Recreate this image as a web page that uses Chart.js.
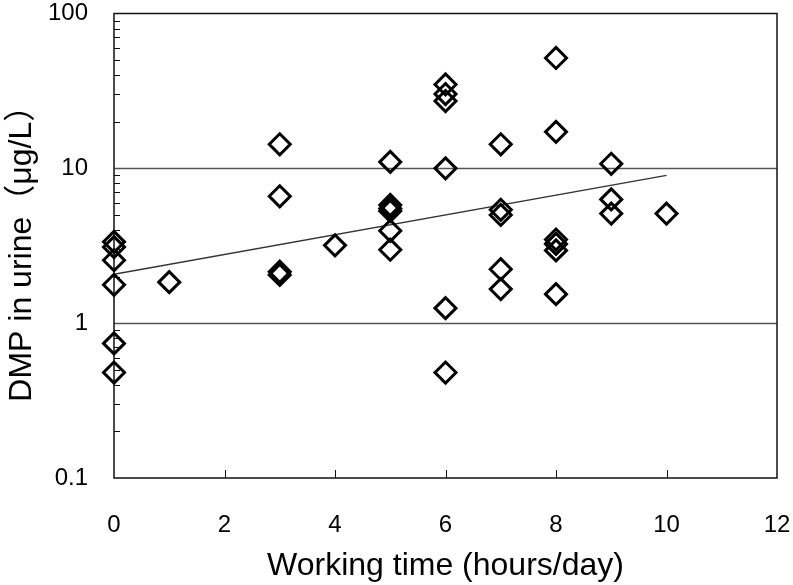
<!DOCTYPE html>
<html>
<head>
<meta charset="utf-8">
<script src="https://cdn.jsdelivr.net/npm/chart.js@4"></script>
<style>
  html, body { margin: 0; padding: 0; background: #fff; }
  #wrap { width: 793px; height: 585px; }
</style>
</head>
<body>
<div id="wrap"><canvas id="chart" width="793" height="585"></canvas></div>
<script>
// working hours per day and DMP in urine (ug/L)
var hours = [0, 0, 0, 0, 0, 0, 1, 3, 3, 3, 3, 4, 5, 5, 5, 5, 5, 5, 6, 6, 6, 6, 6, 6, 7, 7, 7, 7, 7, 8, 8, 8, 8, 8, 8, 9, 9, 9, 10];
var dmp = [3.35, 3.1, 2.55, 1.77, 0.74, 0.48, 1.84, 14.3, 6.6, 2.15, 2.05, 3.18, 11.0, 5.8, 5.5, 5.3, 3.95, 2.98, 34.8, 30.2, 27.2, 10.0, 1.25, 0.48, 14.3, 5.4, 5.0, 2.23, 1.66, 51.6, 17.2, 3.47, 3.25, 2.95, 1.54, 10.7, 6.3, 5.1, 5.1];

// regression line end points
var trendX = [0, 10];
var trendY = [2.07, 9.0];

var xTicks = [0, 2, 4, 6, 8, 10, 12];
var yTicks = [0.1, 1, 10, 100];

var points = hours.map((h, i) => ({ x: h, y: dmp[i] }));
var trend = trendX.map((h, i) => ({ x: h, y: trendY[i] }));

// frame, grid lines at decades, and the small inside ticks
var frame = {
  id: "frame",
  beforeDatasetsDraw(chart) {
    var ctx = chart.ctx;
    var a = chart.chartArea;
    var xs = chart.scales.x;
    var ys = chart.scales.y;
    ctx.save();
    ctx.strokeStyle = "#555";
    ctx.lineWidth = 1.5;
    [1, 10].forEach((v) => {
      var py = Math.round(ys.getPixelForValue(v)) + 0.5;
      ctx.beginPath();
      ctx.moveTo(a.left, py);
      ctx.lineTo(a.right, py);
      ctx.stroke();
    });
    ctx.strokeStyle = "#111";
    ctx.lineWidth = 1.5;
    ctx.strokeRect(a.left, a.top, a.right - a.left, a.bottom - a.top);
    ctx.lineWidth = 1;
    for (var e = -1; e < 2; e++) {
      for (var m = 2; m < 10; m++) {
        var py = Math.round(ys.getPixelForValue(m * Math.pow(10, e))) + 0.5;
        ctx.beginPath();
        ctx.moveTo(a.left, py);
        ctx.lineTo(a.left + 6, py);
        ctx.stroke();
      }
    }
    xTicks.slice(1, -1).forEach((v) => {
      var px = Math.round(xs.getPixelForValue(v)) + 0.5;
      ctx.beginPath();
      ctx.moveTo(px, a.bottom);
      ctx.lineTo(px, a.bottom - 8);
      ctx.stroke();
    });
    ctx.restore();
  },
};

var ctx = document.getElementById("chart").getContext("2d");

var chart = new Chart(ctx, {
  type: "scatter",
  data: {
    datasets: [
      {
        label: "DMP",
        data: points,
        pointStyle: "rectRot",
        pointRadius: 10.5,
        pointBorderWidth: 3,
        borderColor: "#000",
        backgroundColor: "rgba(0,0,0,0)",
        showLine: false,
        clip: false,
      },
      {
        label: "trend",
        data: trend,
        showLine: true,
        borderColor: "#333",
        borderWidth: 1.3,
        pointRadius: 0,
        fill: false,
      },
    ],
  },
  options: {
    responsive: false,
    animation: false,
    layout: { padding: { top: 12, right: 16, left: 0, bottom: 0 } },
    plugins: { legend: { display: false }, tooltip: { enabled: false } },
    scales: {
      x: {
        type: "linear",
        min: 0,
        max: 12,
        afterBuildTicks: (s) => { s.ticks = xTicks.map((v) => ({ value: v })); },
        afterFit: (s) => {
          s.height = 107;
          s.paddingLeft = 0;
          s.paddingRight = 0;
        },
        grid: { display: false, drawTicks: false },
        border: { display: false },
        ticks: {
          color: "#000",
          padding: 33,
          maxRotation: 0,
          font: { family: "'Liberation Sans', Arial, sans-serif", size: 24 },
        },
        title: {
          display: true,
          text: "Working time (hours/day)",
          color: "#000",
          padding: { top: 0, bottom: 0 },
          font: { family: "'Liberation Sans', Arial, sans-serif", size: 32 },
        },
      },
      y: {
        type: "logarithmic",
        min: 0.1,
        max: 100,
        afterBuildTicks: (s) => { s.ticks = yTicks.map((v) => ({ value: v })); },
        afterFit: (s) => {
          s.width = 114;
          s.paddingTop = 0;
          s.paddingBottom = 0;
        },
        grid: { display: false, drawTicks: false },
        border: { display: false },
        ticks: {
          color: "#000",
          padding: 26,
          callback: (v) => String(v),
          font: { family: "'Liberation Sans', Arial, sans-serif", size: 24 },
        },
        title: {
          display: true,
          text: "DMP in urine（μg/L）",
          color: "#000",
          padding: { top: 3, bottom: 0 },
          font: { family: "'Liberation Sans', 'Noto Sans CJK JP', sans-serif", size: 32 },
        },
      },
    },
  },
  plugins: [frame],
});
</script>
</body>
</html>
